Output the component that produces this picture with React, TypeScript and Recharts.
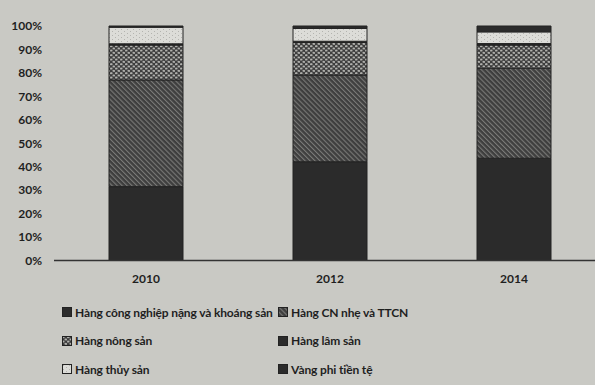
import { BarChart, Bar, XAxis, YAxis } from "recharts";

const years = ["2010", "2012", "2014"];
const nangKhoangSan = [31.5, 42.1, 43.6];
const cnNhe = [45.5, 37.0, 38.4];
const nongSan = [14.9, 13.9, 9.9];
const lamSan = [0.5, 0.5, 0.6];
const thuySan = [7.1, 5.5, 5.0];
const vang = [0.5, 1.0, 2.5];
const yTicks = [0, 10, 20, 30, 40, 50, 60, 70, 80, 90, 100];

const seriesNames = [
    "Hàng công nghiệp nặng và khoáng sản",
    "Hàng CN nhẹ và TTCN",
    "Hàng nông sản",
    "Hàng lâm sản",
    "Hàng thủy sản",
    "Vàng phi tiền tệ",
];

const data = years.map((year, i) => ({
    year,
    nang: nangKhoangSan[i],
    nhe: cnNhe[i],
    nong: nongSan[i],
    lam: lamSan[i],
    thuy: thuySan[i],
    vang: vang[i],
}));

const keys = ["nang", "nhe", "nong", "lam", "thuy", "vang"];
const fills = [
    "#2b2b2b",
    "url(#diag)",
    "url(#dots)",
    "#2b2b2b",
    "url(#light)",
    "#2b2b2b",
];

const font = "Lato, 'Open Sans', sans-serif";
const ink = "#1f1f1f";

function Swatch({ fill }: { fill: string }) {
    return (
        <svg width={10} height={10} style={{ marginRight: 3, flex: "none" }}>
            <rect x={0.5} y={0.5} width={9} height={9} fill={fill} stroke="#222" />
        </svg>
    );
}

export default function App() {
    return (
        <div
            style={{
                position: "fixed",
                left: 0,
                top: 0,
                width: 595,
                height: 385,
                overflow: "hidden",
                background: "#c9c9c4",
                fontFamily: font,
            }}
        >
            <svg width={0} height={0} style={{ position: "absolute" }}>
                <defs>
                    <pattern id="diag" width="3.5" height="3.5" patternUnits="userSpaceOnUse" patternTransform="rotate(-45)">
                        <rect width="3.5" height="3.5" fill="#3e3e3e" />
                        <rect width="1.1" height="3.5" fill="#7a7a78" />
                    </pattern>
                    <pattern id="dots" width="5" height="4.5" patternUnits="userSpaceOnUse">
                        <rect width="5" height="4.5" fill="#3c3c3c" />
                        <ellipse cx="1.3" cy="1.1" rx="1.4" ry="0.9" fill="#c2c2be" />
                        <ellipse cx="3.8" cy="3.4" rx="1.4" ry="0.9" fill="#c2c2be" />
                    </pattern>
                    <pattern id="light" width="6" height="4" patternUnits="userSpaceOnUse">
                        <rect width="6" height="4" fill="#dcdcd8" />
                        <rect x="1" y="1" width="1" height="1" fill="#b4b4b0" />
                        <rect x="4" y="3" width="1" height="1" fill="#b4b4b0" />
                    </pattern>
                </defs>
            </svg>
            <BarChart
                width={606}
                height={300}
                data={data}
                margin={{ top: 26, right: 0, left: 0, bottom: 0 }}
                barSize={74}
            >
                <XAxis
                    dataKey="year"
                    axisLine={{ stroke: "#333", strokeWidth: 1.5 }}
                    tickLine={false}
                    height={39.5}
                    tickMargin={8}
                    tick={{ fill: ink, fontSize: 12, fontWeight: 700, fontFamily: font }}
                />
                <YAxis
                    width={54}
                    domain={[0, 100]}
                    ticks={yTicks}
                    interval={0}
                    axisLine={false}
                    tickLine={false}
                    tickSize={0}
                    tickMargin={12}
                    tickFormatter={(v: number) => `${v}%`}
                    tick={{ fill: ink, fontSize: 12, fontWeight: 700, fontFamily: font }}
                />
                {keys.map((k, i) => (
                    <Bar
                        key={k}
                        dataKey={k}
                        stackId="a"
                        fill={fills[i]}
                        stroke="#222"
                        strokeWidth={1}
                        isAnimationActive={false}
                    />
                ))}
            </BarChart>
            <div
                style={{
                    position: "absolute",
                    left: 62,
                    top: 304,
                    display: "grid",
                    gridTemplateColumns: "216px 200px",
                    rowGap: 12.5,
                    fontSize: 12,
                    fontWeight: 700,
                    letterSpacing: -0.15,
                    color: ink,
                }}
            >
                {seriesNames.map((name, i) => (
                    <div key={name} style={{ display: "flex", alignItems: "center", height: 16, whiteSpace: "nowrap" }}>
                        <Swatch fill={fills[i]} />
                        {name}
                    </div>
                ))}
            </div>
        </div>
    );
}
